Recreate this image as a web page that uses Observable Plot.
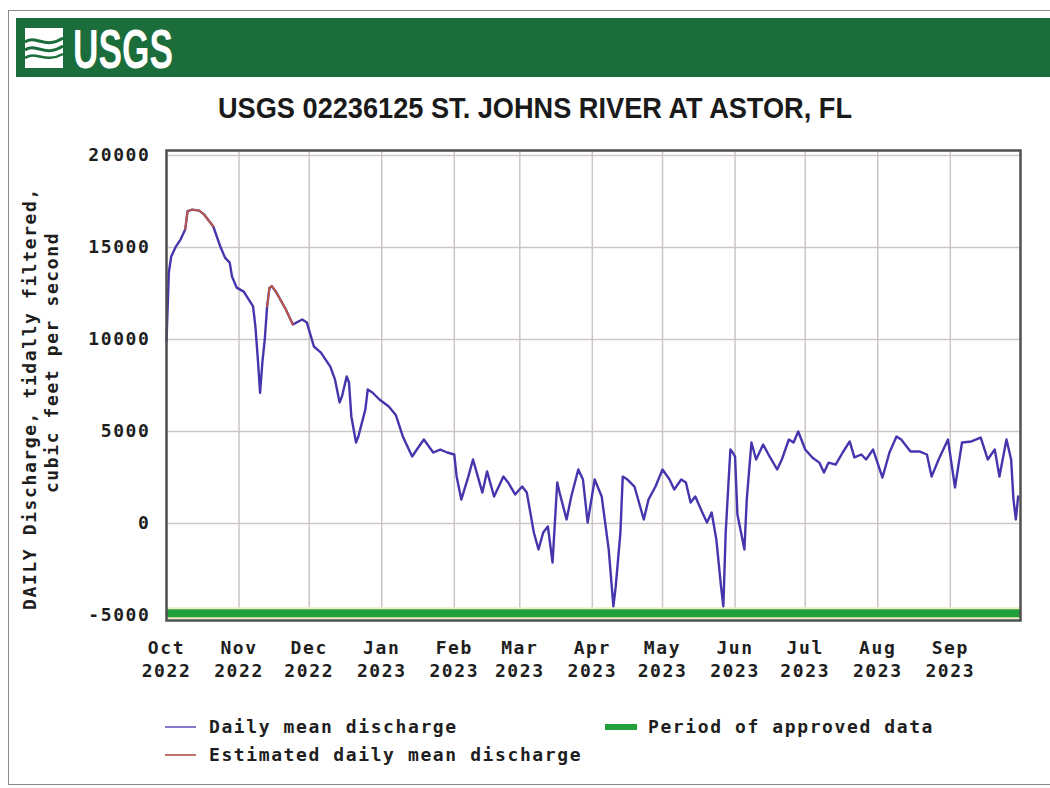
<!DOCTYPE html>
<html>
<head>
<meta charset="utf-8">
<script src="https://cdn.jsdelivr.net/npm/d3@7"></script>
<script src="https://cdn.jsdelivr.net/npm/@observablehq/plot@0.6"></script>
<style>
  html, body { margin: 0; padding: 0; background: #fff; }
  #wrap { position: relative; width: 1050px; height: 788px; overflow: hidden; background: #fff; }
  .mono { font-family: "DejaVu Sans Mono", monospace; font-weight: bold; font-size: 18px; letter-spacing: 1.6px; color: #1e1e1e; }
  #border { position: absolute; left: 8px; top: 10px; width: 1060px; height: 775px; border: 1px solid #8a8a8a; box-sizing: border-box; }
  #band { position: absolute; left: 16px; top: 18px; width: 1040px; height: 59px; background: #1b6d3b; }
  #chart { position: absolute; left: 0; top: 130px; }
  .ylab { position: absolute; white-space: nowrap; transform-origin: center center; }
  .leg { position: absolute; white-space: nowrap; line-height: 20px; }
  .sw { position: absolute; }
</style>
</head>
<body>
<div id="wrap">
  <div id="border"></div>
  <div id="band"></div>
  <svg id="logo" style="position:absolute;left:0;top:0" width="300" height="90">
    <rect x="25" y="28" width="38" height="40" fill="#ffffff"/>
    <path d="M25 42 C 35 34, 45 50, 63 38" stroke="#1b6d3b" stroke-width="3" fill="none"/>
    <path d="M25 50 C 35 42, 45 58, 63 46" stroke="#1b6d3b" stroke-width="3" fill="none"/>
    <path d="M25 58 C 35 50, 45 64, 63 54" stroke="#1b6d3b" stroke-width="2.5" fill="none"/>
    <text x="73" y="68" fill="#ffffff" font-family="'Liberation Sans Narrow', 'Liberation Sans', Arial, sans-serif" font-weight="bold" font-size="55" textLength="100" lengthAdjust="spacingAndGlyphs">USGS</text>
  </svg>
  <svg id="title" style="position:absolute;left:0;top:80px" width="1050" height="50">
    <text x="218" y="38" fill="#1a1a1a" font-family="'Liberation Sans Narrow', 'Liberation Sans', Arial, sans-serif" font-weight="bold" font-size="29" textLength="634" lengthAdjust="spacingAndGlyphs">USGS 02236125 ST. JOHNS RIVER AT ASTOR, FL</text>
  </svg>
  <div id="chart"></div>
  <div class="mono ylab" id="yl1">DAILY Discharge, tidally filtered,</div>
  <div class="mono ylab" id="yl2">cubic feet per second</div>

  <div class="sw" style="left:165px;top:726px;width:31px;height:2px;background:#8478c8"></div>
  <div class="mono leg" style="left:209px;top:717px">Daily mean discharge</div>
  <div class="sw" style="left:165px;top:754px;width:31px;height:2px;background:#c0746a"></div>
  <div class="mono leg" style="left:209px;top:745px">Estimated daily mean discharge</div>
  <div class="sw" style="left:605px;top:724px;width:32px;height:6px;background:#22a03c"></div>
  <div class="mono leg" style="left:648px;top:717px">Period of approved data</div>
</div>
<script>
// ---- data ----
const dates = [
  "2022-10-01","2022-10-02","2022-10-03","2022-10-05","2022-10-07","2022-10-09","2022-10-10","2022-10-12","2022-10-15","2022-10-17",
  "2022-10-21","2022-10-24","2022-10-26","2022-10-28","2022-10-29","2022-10-31","2022-11-03","2022-11-06","2022-11-07","2022-11-08",
  "2022-11-09","2022-11-10","2022-11-11","2022-11-12","2022-11-13","2022-11-14","2022-11-15","2022-11-17","2022-11-21","2022-11-24",
  "2022-11-28","2022-11-30","2022-12-03","2022-12-06","2022-12-10","2022-12-12","2022-12-14","2022-12-15","2022-12-17","2022-12-18",
  "2022-12-19","2022-12-21","2022-12-22","2022-12-25","2022-12-26","2022-12-28","2022-12-31","2023-01-04","2023-01-07","2023-01-10",
  "2023-01-14","2023-01-16","2023-01-19","2023-01-23","2023-01-26","2023-01-29","2023-02-01","2023-02-02","2023-02-04","2023-02-07",
  "2023-02-09","2023-02-13","2023-02-15","2023-02-18","2023-02-22","2023-02-24","2023-02-27","2023-03-02","2023-03-04","2023-03-07",
  "2023-03-09","2023-03-11","2023-03-13","2023-03-15","2023-03-17","2023-03-18","2023-03-21","2023-03-23","2023-03-26","2023-03-28",
  "2023-03-30","2023-04-02","2023-04-05","2023-04-08","2023-04-10","2023-04-11","2023-04-13","2023-04-14","2023-04-16","2023-04-19",
  "2023-04-23","2023-04-25","2023-04-28","2023-05-01","2023-05-04","2023-05-06","2023-05-09","2023-05-11","2023-05-13","2023-05-15",
  "2023-05-18","2023-05-20","2023-05-22","2023-05-24","2023-05-26","2023-05-27","2023-05-28","2023-05-30","2023-05-31","2023-06-01",
  "2023-06-02","2023-06-05","2023-06-06","2023-06-08","2023-06-10","2023-06-13","2023-06-16","2023-06-19","2023-06-21","2023-06-24",
  "2023-06-26","2023-06-28","2023-07-01","2023-07-04","2023-07-07","2023-07-09","2023-07-11","2023-07-14","2023-07-17","2023-07-20",
  "2023-07-22","2023-07-25","2023-07-27","2023-07-30","2023-08-03","2023-08-06","2023-08-09","2023-08-11","2023-08-15","2023-08-19",
  "2023-08-22","2023-08-24","2023-08-27","2023-08-31","2023-09-03","2023-09-06","2023-09-10","2023-09-14","2023-09-17","2023-09-20",
  "2023-09-22","2023-09-25","2023-09-27","2023-09-28","2023-09-29","2023-09-30"
];
const discharge = [
  9900,13640,14500,15050,15430,15980,16970,17060,17000,16800,
  16140,15050,14450,14180,13420,12820,12600,12000,11800,10700,
  9000,7100,8800,10000,11800,12800,12900,12550,11630,10815,
  11090,10920,9620,9290,8530,7830,6580,6900,7990,7660,
  5820,4400,4730,6200,7280,7120,6740,6360,5900,4730,
  3640,4020,4565,3860,4020,3860,3750,2555,1300,2550,
  3480,1680,2830,1470,2550,2230,1580,2010,1680,-490,
  -1410,-490,-160,-2120,2230,1680,220,1470,2935,2390,
  50,2390,1470,-1410,-4500,-3420,-490,2550,2390,2010,
  220,1300,2010,2935,2390,1850,2390,2230,1140,1470,
  600,50,600,-870,-3420,-4500,-490,4020,3860,3640,
  500,-1410,1300,4400,3480,4290,3590,2935,3480,4565,
  4400,5000,4020,3590,3310,2770,3310,3200,3860,4460,
  3590,3750,3480,4020,2500,3860,4730,4565,3910,3910,
  3750,2550,3480,4565,1960,4400,4460,4670,3480,4020,
  2550,4565,3480,1300,220,1470
];
const estimatedStarts = ["2022-10-09", "2022-11-13"];
const estimatedEnds   = ["2022-10-21", "2022-11-24"];
const approvedStart = "2022-10-01";
const approvedEnd   = "2023-10-01";
const approvedLevel = -4870;
const monthTicks = ["2022-10-01","2022-11-01","2022-12-01","2023-01-01","2023-02-01","2023-03-01",
                    "2023-04-01","2023-05-01","2023-06-01","2023-07-01","2023-08-01","2023-09-01"];
const monthLabels = ["Oct\n2022","Nov\n2022","Dec\n2022","Jan\n2023","Feb\n2023","Mar\n2023",
                     "Apr\n2023","May\n2023","Jun\n2023","Jul\n2023","Aug\n2023","Sep\n2023"];
const yTicks = [-5000, 0, 5000, 10000, 15000, 20000];
const yTickLabels = ["-5000", "0", "5000", "10000", "15000", "20000"];

// ---- build tables ----
const series = dates.map((d, i) => ({date: new Date(d), value: discharge[i]}));
const estRanges = estimatedStarts.map((s, i) => [new Date(s), new Date(estimatedEnds[i])]);
const estimated = [];
estRanges.forEach(([a, b], k) => {
  series.forEach(p => { if (p.date >= a && p.date <= b) estimated.push({...p, seg: k}); });
});
const tickDates = monthTicks.map(d => new Date(d));
const labelByTime = new Map(tickDates.map((d, i) => [+d, monthLabels[i]]));
const yLabelByValue = new Map(yTicks.map((v, i) => [v, yTickLabels[i]]));
const approved = [{date: new Date(approvedStart), value: approvedLevel}, {date: new Date(approvedEnd), value: approvedLevel}];

const chart = Plot.plot({
  width: 1050,
  height: 560,
  marginTop: 20,
  marginBottom: 70,
  marginLeft: 166,
  marginRight: 30,
  style: {fontFamily: "'DejaVu Sans Mono', monospace", fontWeight: "bold", fontSize: "18px", letterSpacing: "1.6px", color: "#1e1e1e", background: "transparent"},
  x: {type: "utc", domain: [new Date("2022-10-01"), new Date("2023-10-01")]},
  y: {domain: [-5270, 20270]},
  marks: [
    Plot.gridX(tickDates, {stroke: "#cdc5c5", strokeOpacity: 1, strokeWidth: 1.5}),
    Plot.gridY(yTicks, {stroke: "#cdc5c5", strokeOpacity: 1, strokeWidth: 1.5}),
    Plot.line(approved, {x: "date", y: "value", stroke: "#eeeec0", strokeWidth: 12, strokeLinecap: "butt"}),
    Plot.line(approved, {x: "date", y: "value", stroke: "#22a03c", strokeWidth: 8, strokeLinecap: "butt"}),
    Plot.line(series, {x: "date", y: "value", stroke: "#4536ad", strokeWidth: 2.4}),
    Plot.line(estimated, {x: "date", y: "value", z: "seg", stroke: "#c4583e", strokeWidth: 1.8}),
    Plot.frame({stroke: "#505050", strokeWidth: 2.5}),
    Plot.axisY(yTicks, {tickSize: 0, tickPadding: 16, tickFormat: v => yLabelByValue.get(v), label: null}),
    Plot.axisX(tickDates, {tickSize: 0, tickPadding: 18, lineHeight: 1.25, tickFormat: d => labelByTime.get(+d), label: null})
  ]
});
document.getElementById("chart").appendChild(chart);

// y-axis title (two rotated lines)
function placeRotated(id, cx, cy) {
  const el = document.getElementById(id);
  const w = el.offsetWidth, h = el.offsetHeight;
  el.style.left = (cx - w / 2) + "px";
  el.style.top = (cy - h / 2) + "px";
  el.style.transform = "rotate(-90deg)";
}
placeRotated("yl1", 29, 398);
placeRotated("yl2", 51, 362);
</script>
</body>
</html>
